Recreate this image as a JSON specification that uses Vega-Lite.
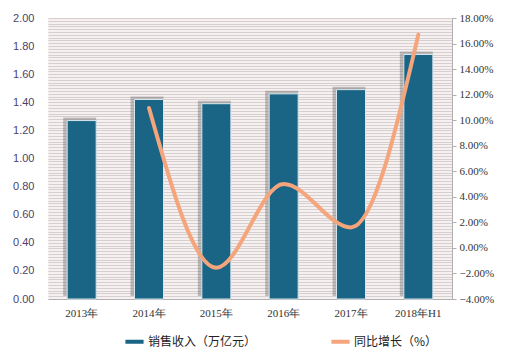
{
  "$schema": "https://vega.github.io/schema/vega-lite/v6.json",
  "width": 404,
  "height": 281,
  "autosize": {"type": "none"},
  "padding": {"left": 48, "top": 18, "right": 68, "bottom": 61},
  "background": "white",
  "config": {
    "view": {"fill": "#f7f0f0", "stroke": null},
    "font": "Liberation Sans"
  },
  "data": {
    "values": [
      {"year": "2013年", "revenue": 1.27, "growth": null},
      {"year": "2014年", "revenue": 1.42, "growth": 10.95},
      {"year": "2015年", "revenue": 1.39, "growth": -1.55},
      {"year": "2016年", "revenue": 1.46, "growth": 5.0},
      {"year": "2017年", "revenue": 1.49, "growth": 1.6},
      {"year": "2018年H1", "revenue": 1.74, "growth": 16.7}
    ]
  },
  "encoding": {
    "x": {
      "field": "year", "type": "nominal", "sort": null,
      "scale": {"paddingInner": 0, "paddingOuter": 0},
      "axis": {
        "title": null, "labelAngle": 0, "ticks": false,
        "domainColor": "#b0b0b0", "labelFont": "Liberation Serif",
        "labelFontSize": 11, "labelColor": "#333333", "labelPadding": 8
      }
    }
  },
  "layer": [
    {
      "mark": {"type": "bar", "width": 33, "xOffset": -2, "yOffset": -3, "color": "#555555", "opacity": 0.35},
      "encoding": {
        "y": {
          "field": "revenue", "type": "quantitative",
          "scale": {"domain": [0, 2], "nice": false},
          "axis": null
        }
      }
    },
    {
      "mark": {"type": "bar", "width": 29, "stroke": "#d5e6ee", "strokeWidth": 1},
      "encoding": {
        "y": {
          "field": "revenue", "type": "quantitative",
          "scale": {"domain": [0, 2], "nice": false},
          "axis": {
            "title": null, "tickCount": 80, "grid": true, "gridColor": "#d6cfcf",
            "ticks": false, "domain": false,
            "labelExpr": "round(datum.value*100) % 20 == 0 ? format(datum.value, '.2f') : ''",
            "labelColor": "#4a3f6e", "labelFontSize": 11, "labelFont": "Liberation Sans",
            "labelPadding": 14
          }
        },
        "color": {
          "datum": "销售收入（万亿元）",
          "scale": {"domain": ["销售收入（万亿元）", "同比增长（%）"], "range": ["#1a6485", "#f5a57c"]},
          "legend": {
            "title": null, "orient": "none", "direction": "horizontal",
            "legendX": 75, "legendY": 312, "columnPadding": 66,
            "symbolType": "stroke", "symbolStrokeWidth": 4, "symbolSize": 330,
            "labelFont": "Noto Sans CJK SC", "labelFontSize": 12, "labelColor": "#222222",
            "labelOffset": 2
          }
        }
      }
    },
    {
      "transform": [{"filter": "datum.growth != null"}],
      "mark": {"type": "line", "interpolate": "monotone", "strokeWidth": 4, "strokeCap": "round"},
      "encoding": {
        "y": {
          "field": "growth", "type": "quantitative",
          "scale": {"domain": [-4, 18], "nice": false},
          "axis": {
            "orient": "right", "title": null, "tickCount": 11, "grid": false,
            "labelExpr": "format(datum.value, '.2f') + '%'",
            "domainColor": "#b0b0b0", "tickColor": "#b0b0b0", "tickSize": 4,
            "labelFont": "Liberation Serif", "labelFontSize": 11, "labelColor": "#333333",
            "labelPadding": 3
          }
        },
        "color": {"datum": "同比增长（%）"}
      }
    }
  ],
  "resolve": {"scale": {"y": "independent"}}
}
